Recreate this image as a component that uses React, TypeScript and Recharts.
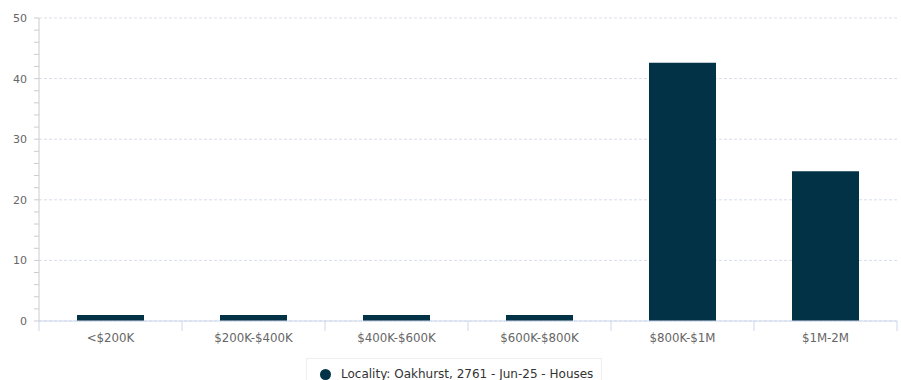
import React from 'react';
import { BarChart, Bar, XAxis, YAxis, CartesianGrid } from 'recharts';

const categories = ['<$200K', '$200K-$400K', '$400K-$600K', '$600K-$800K', '$800K-$1M', '$1M-2M'];
const houses = [1, 1, 1, 1, 42.6, 24.7];
const yTicks = [0, 2, 4, 6, 8, 10, 12, 14, 16, 18, 20, 22, 24, 26, 28, 30, 32, 34, 36, 38, 40, 42, 44, 46, 48, 50];
const yMajor = [0, 10, 20, 30, 40, 50];
const seriesName = 'Locality: Oakhurst, 2761 - Jun-25 - Houses';

const BAR_COLOR = '#023246';
const FONT = '"DejaVu Sans", sans-serif';

const data = categories.map((name, i) => ({ name, value: houses[i] }));

// y-axis: minor ticks every 2, labels only on multiples of 10
function YTick(props: any) {
   const { x, y, payload } = props;
   if (payload.value % 10 !== 0) return null;
   return (
      <text x={x} y={y} dy={4} textAnchor="end" fontSize={11} fill="#666666" fontFamily={FONT}>
         {payload.value}
      </text>
   );
}

// x-axis: tick marks sit between categories, like Highcharts
function XTick(props: any) {
   const { x, y, payload, index } = props;
   const half = payload.offset ?? 71.5;
   return (
      <g>
         <line x1={x - half} x2={x - half} y1={y} y2={y + 10} stroke="#ccd6eb" />
         {index === categories.length - 1 && (
            <line x1={x + half} x2={x + half} y1={y} y2={y + 10} stroke="#ccd6eb" />
         )}
         <text x={x} y={y + 20.5} textAnchor="middle" fontSize={11.8} fill="#666666" fontFamily={FONT}>
            {payload.value}
         </text>
      </g>
   );
}

export default function App() {
   return (
      <div style={{ position: 'absolute', left: 0, top: 0, width: 901, height: 380, background: '#fff', overflow: 'hidden' }}>
         <BarChart width={901} height={380} data={data} margin={{ top: 18, right: 4, bottom: 0, left: 0 }}>
            <CartesianGrid
               vertical={false}
               stroke="#d8dde8"
               strokeDasharray="3 2"
               horizontalValues={yMajor}
            />
            <XAxis
               dataKey="name"
               interval={0}
               tick={<XTick />}
               tickLine={false}
               tickSize={0}
               tickMargin={0}
               height={59}
               axisLine={{ stroke: '#ccd6eb' }}
            />
            <YAxis
               width={39}
               domain={[0, 50]}
               ticks={yTicks}
               interval={0}
               tick={<YTick />}
               tickSize={5}
               tickMargin={7}
               tickLine={{ stroke: '#cccccc' }}
               axisLine={{ stroke: '#cccccc' }}
            />
            <Bar dataKey="value" fill={BAR_COLOR} barSize={67} isAnimationActive={false} />
         </BarChart>
         <div
            style={{
               position: 'absolute',
               left: 306,
               top: 358,
               width: 296,
               height: 30,
               border: '1px solid #eeeeee',
               boxSizing: 'border-box',
               fontFamily: FONT,
               fontSize: 12,
               color: '#333333',
            }}
         >
            <span
               style={{
                  position: 'absolute',
                  left: 13,
                  top: 10,
                  width: 11,
                  height: 11,
                  borderRadius: '50%',
                  background: BAR_COLOR,
               }}
            />
            <span style={{ position: 'absolute', left: 34, top: 8, whiteSpace: 'nowrap' }}>{seriesName}</span>
         </div>
      </div>
   );
}
